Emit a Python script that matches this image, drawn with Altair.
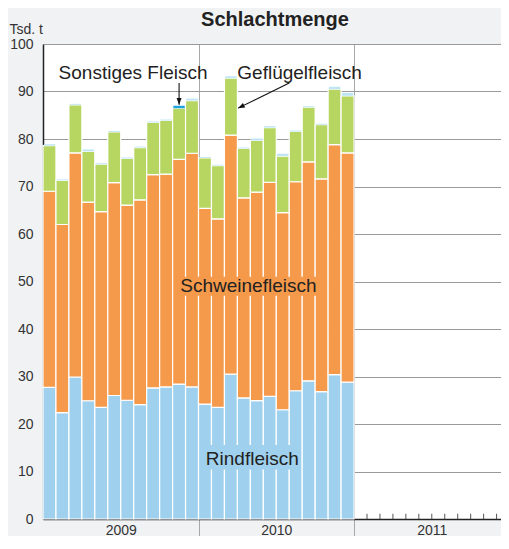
import altair as alt
import pandas as pd

# ---- data (Tsd. t), Jan 2009 .. Dec 2010 ----
rind = [27.7, 22.4, 29.9, 24.9, 23.5, 26.0, 25.0, 24.1, 27.6, 27.8, 28.4, 27.8,
        24.2, 23.5, 30.5, 25.5, 24.9, 25.8, 23.0, 27.0, 29.1, 26.8, 30.4, 28.8]
schwein = [41.3, 39.6, 47.2, 41.8, 41.2, 44.8, 41.1, 43.1, 44.9, 44.8, 47.3, 49.2,
           41.2, 39.7, 50.3, 42.1, 43.9, 45.1, 41.5, 44.0, 46.1, 44.8, 48.4, 48.3]
gefluegel = [9.6, 9.3, 10.1, 10.7, 10.0, 10.7, 9.8, 11.0, 11.0, 11.3, 10.8, 11.1,
             10.6, 11.2, 12.0, 10.4, 10.9, 11.5, 11.9, 10.6, 11.5, 11.4, 11.7, 12.0]
sonstiges = [0.3, 0.2, 0.2, 0.4, 0.2, 0.2, 0.2, 0.2, 0.2, 0.2, 0.5, 0.4,
             0.2, 0.2, 0.4, 0.2, 0.4, 0.3, 0.5, 0.2, 0.2, 0.2, 0.5, 0.6]
highlight_month = 10  # bar the "Sonstiges Fleisch" arrow points to

years = ["2009", "2010", "2011"]
year_centers = [6, 18, 30]
year_bounds = [12, 24]
minor_ticks_2011 = list(range(25, 36))
x_domain_end = 35.34  # 2011 runs on past the right edge of the picture

kat_names = ["Rindfleisch", "Schweinefleisch", "Geflügelfleisch"]
kat_colors = ["#9fd1ee", "#f5994a", "#b7d561"]

# annotation texts
ann_text = ["Sonstiges Fleisch", "Geflügelfleisch"]
ann_x = [6.95, 19.8]
ann_y = [92.6, 92.6]
inner_text = ["Schweinefleisch", "Rindfleisch"]
inner_x = [15.85, 16.15]
inner_y = [49.0, 12.7]
box_x0 = [10.6, 12.4]
box_x1 = [21.2, 19.9]
box_y0 = [47.0, 10.4]
box_y1 = [51.0, 15.6]
box_col = ["#f5994a", "#9fd1ee"]
arrow_x0 = [10.5, 19.0]
arrow_y0 = [91.8, 91.8]
arrow_x1 = [10.5, 15.05]
arrow_y1 = [87.2, 86.5]
arrow_angle = [0, 64]

# ---- build tables ----
rows = []
son_rows = []
for i in range(len(rind)):
    base = 0.0
    for k, v in zip(kat_names, [rind[i], schwein[i], gefluegel[i]]):
        rows.append({"x0": i, "x1": i + 1, "y0": base, "y1": base + v, "kat": k})
        base += v
    son_rows.append({"x0": i + 0.06, "x1": i + 0.94, "y0": base, "y1": base + sonstiges[i],
                     "farbe": "#1fa3e0" if i == highlight_month else "#bfe5f5"})
bars = pd.DataFrame(rows)
son = pd.DataFrame(son_rows)
minor = pd.DataFrame({"x": minor_ticks_2011, "y0": 0.0, "y1": 1.1})
ann = pd.DataFrame({"t": ann_text, "x": ann_x, "y": ann_y})
inner = pd.DataFrame({"t": inner_text, "x": inner_x, "y": inner_y})
boxes = pd.DataFrame({"x0": box_x0, "x1": box_x1, "y0": box_y0, "y1": box_y1, "c": box_col})
arrows = pd.DataFrame({"x0": arrow_x0, "y0": arrow_y0, "x1": arrow_x1, "y1": arrow_y1,
                       "ang": arrow_angle})

xscale = alt.Scale(domain=[0, x_domain_end], nice=False, zero=False)
yscale = alt.Scale(domain=[0, 100], nice=False)

label_expr = " : ".join(
    f"datum.value == {c} ? '{y}'" for c, y in zip(year_centers, years)) + " : ''"
xaxis = alt.Axis(
    values=year_centers + year_bounds, labelExpr=label_expr, title=None,
    tickSize=17, tickColor="#a8a8a8", tickWidth=1,
    tickOpacity={"condition": {"test": "datum.value % 12 == 0", "value": 1}, "value": 0},
    grid=True, gridColor="#a8a8a8", gridWidth=1,
    gridOpacity={"condition": {"test": "datum.value % 12 == 0", "value": 1}, "value": 0},
    domainColor="#222222", domainWidth=1.5, labelPadding=-13, labelFontSize=14,
    labelColor="#333333", labelFlush=False, labelOverlap=False,
)
yaxis = alt.Axis(
    values=list(range(0, 101, 10)), title="Tsd. t", titleAngle=0, titleAlign="left",
    titleBaseline="alphabetic", titleX=-34, titleY=-11, titleFontSize=14,
    titleFontWeight="normal", titleColor="#333333",
    grid=True, gridColor="#9a9a9a", gridWidth=1, ticks=False,
    domainColor="#222222", domainWidth=1.5, labelPadding=10, labelFontSize=14,
    labelColor="#333333",
)

def X(f):
    return alt.X(f, type="quantitative", scale=xscale, axis=xaxis)

def Y(f):
    return alt.Y(f, type="quantitative", scale=yscale, axis=yaxis)

bar_layer = alt.Chart(bars).mark_rect(stroke="white", strokeWidth=1.2).encode(
    x=X("x0"), x2="x1", y=Y("y0"), y2="y1",
    color=alt.Color("kat:N", scale=alt.Scale(domain=kat_names, range=kat_colors), legend=None),
)
son_layer = alt.Chart(son).mark_rect().encode(
    x=X("x0"), x2="x1", y=Y("y0"), y2="y1",
    color=alt.Color("farbe:N", scale=None),
)
minor_layer = alt.Chart(minor).mark_rule(color="#555555", strokeWidth=1).encode(
    x=X("x"), y=Y("y0"), y2="y1",
)
box_layer = alt.Chart(boxes).mark_rect().encode(
    x=X("x0"), x2="x1", y=Y("y0"), y2="y1", color=alt.Color("c:N", scale=None),
)
inner_layer = alt.Chart(inner).mark_text(fontSize=19, color="#222222", baseline="middle").encode(
    x=X("x"), y=Y("y"), text="t:N",
)
ann_layer = alt.Chart(ann).mark_text(fontSize=19, color="#222222", baseline="alphabetic").encode(
    x=X("x"), y=Y("y"), text="t:N",
)
shaft_layer = alt.Chart(arrows).mark_rule(color="#111111", strokeWidth=1.1).encode(
    x=X("x0"), y=Y("y0"), x2="x1", y2="y1",
)
head_layer = alt.Chart(arrows).mark_point(
    shape="M0,0L-0.6,-1.6L0.6,-1.6Z", filled=True, color="#111111", size=70, opacity=1,
).encode(
    x=X("x1"), y=Y("y1"), angle=alt.Angle("ang:Q", scale=None),
)

chart = alt.layer(
    bar_layer, son_layer, minor_layer, box_layer, inner_layer, ann_layer, shaft_layer, head_layer
).properties(
    width=458, height=475,
    title=alt.TitleParams("Schlachtmenge", fontSize=20, fontWeight="bold", anchor="middle",
                          frame="group", offset=0, dy=8, dx=3, color="#222222"),
    autosize=alt.AutoSizeParams(type="none"),
    padding={"left": 35, "top": 36, "right": 0, "bottom": 17},
).configure(
    background="#f1f2f4", font="Liberation Sans",
).configure_view(fill="white", stroke=None)

chart.save("out.html", embed_options={"renderer": "svg", "actions": False})
